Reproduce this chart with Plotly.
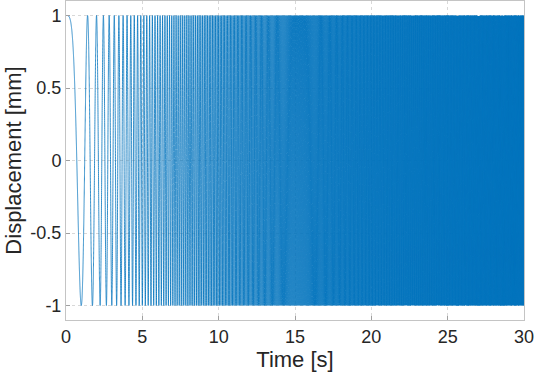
import numpy as np
import plotly.graph_objects as go

# Chirp parameters (linear sweep, MATLAB-style chirp)
duration_s = 30.0
sample_rate_hz = 1000.0
start_freq_hz = 0.0
end_freq_hz = 30.0
amplitude_mm = 1.0

x_tick_vals = [0, 5, 10, 15, 20, 25, 30]
x_tick_text = ["0", "5", "10", "15", "20", "25", "30"]
y_tick_vals = [-1, -0.5, 0, 0.5, 1]
y_tick_text = ["-1", "-0.5", "0", "0.5", "1"]

t = np.arange(0, duration_s + 1e-9, 1.0 / sample_rate_hz)
k = (end_freq_hz - start_freq_hz) / duration_s
disp = amplitude_mm * np.cos(2 * np.pi * (start_freq_hz * t + 0.5 * k * t ** 2))

fig = go.Figure()
fig.add_trace(go.Scatter(x=t, y=disp, mode="lines",
                         line=dict(color="#0072BD", width=0.8, simplify=False),
                         hoverinfo="skip", showlegend=False))

font_family = "Liberation Sans, Arial, sans-serif"
axis_common = dict(
    showline=True, linecolor="#c4c4c4", linewidth=1, mirror=True,
    ticks="inside", ticklen=4, tickcolor="#a0a0a0",
    showgrid=True, gridcolor="#d8d8d8", griddash="dot", gridwidth=1,
    zeroline=False,
    tickfont=dict(family=font_family, size=18, color="#262626"),
)

fig.update_layout(
    width=535, height=382,
    margin=dict(l=66, r=11, t=1, b=62),
    paper_bgcolor="white", plot_bgcolor="white",
    font=dict(family=font_family, color="#262626"),
    xaxis=dict(range=[0, 30], tickvals=x_tick_vals, ticktext=x_tick_text,
               title=dict(text="Time [s]", font=dict(size=22), standoff=4),
               **axis_common),
    yaxis=dict(range=[-1.1, 1.1], tickvals=y_tick_vals, ticktext=y_tick_text,
               title=dict(text="Displacement [mm]", font=dict(size=22), standoff=2),
               **axis_common),
)

fig.write_html("out.html", config={"displayModeBar": False},
               post_script="document.body.style.margin='0';document.body.style.overflow='hidden';")
